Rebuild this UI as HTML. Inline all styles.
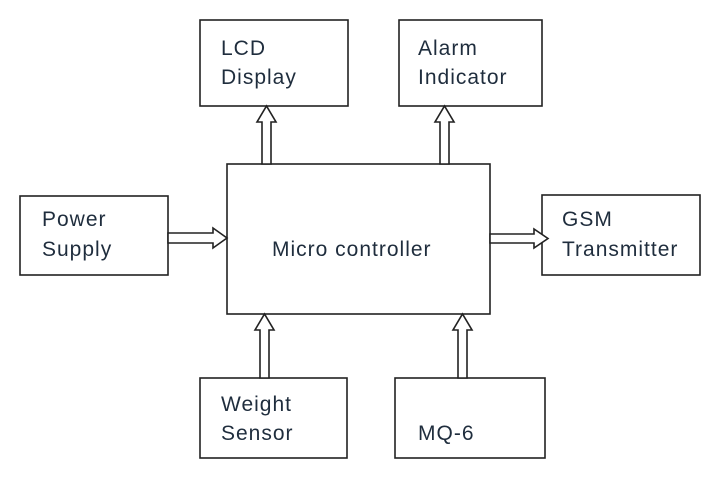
<!DOCTYPE html>
<html><head><meta charset="utf-8"><style>
body{margin:0;background:#fff;}
svg text{font-family:"Liberation Sans",sans-serif;font-size:21px;letter-spacing:1px;fill:#1f2d3d;}
</style></head><body>
<svg width="723" height="479" xmlns="http://www.w3.org/2000/svg">
<g fill="none" stroke="#222" stroke-width="1.6">
<rect x="200" y="20" width="148" height="86"/>
<rect x="399" y="20" width="143" height="86"/>
<rect x="227" y="164" width="263" height="150"/>
<rect x="20" y="196" width="148" height="79"/>
<rect x="542" y="195" width="158" height="80"/>
<rect x="200" y="378" width="147" height="80"/>
<rect x="395" y="378" width="150" height="80"/>
</g>
<g fill="#fff" stroke="#222" stroke-width="1.6" stroke-linejoin="miter">
<polygon points="262,164 262,122 257,122 266.5,106 276,122 271,122 271,164"/>
<polygon points="440,164 440,122 435,122 444.5,106 454,122 449,122 449,164"/>
<polygon points="260,378 260,330 255,330 264.5,314 274,330 269,330 269,378"/>
<polygon points="458,378 458,330 453,330 462.5,314 472,330 467,330 467,378"/>
<polygon points="168,233 213,233 213,228 227,238 213,248 213,243 168,243"/>
<polygon points="490,234 534,234 534,229 548,238.5 534,248 534,243 490,243"/>
</g>
<text x="221" y="55">LCD</text>
<text x="221" y="84">Display</text>
<text x="418" y="55">Alarm</text>
<text x="418" y="84">Indicator</text>
<text x="42" y="226">Power</text>
<text x="42" y="256">Supply</text>
<text x="272" y="256">Micro controller</text>
<text x="562" y="226">GSM</text>
<text x="562" y="256">Transmitter</text>
<text x="221" y="411">Weight</text>
<text x="221" y="440">Sensor</text>
<text x="418" y="440">MQ-6</text>
</svg>
</body></html>
